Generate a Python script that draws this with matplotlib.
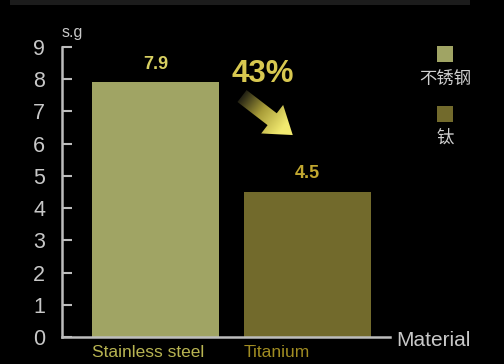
import numpy as np
import matplotlib
matplotlib.use("Agg")
import matplotlib.pyplot as plt
from matplotlib.patches import FancyArrow, Rectangle
from matplotlib.colors import LinearSegmentedColormap

plt.rcParams['font.family'] = ['Liberation Sans', 'Noto Sans CJK SC', 'DejaVu Sans']

categories = ["Stainless steel", "Titanium"]
legend_names = ["不锈钢", "钛"]
values = [7.9, 4.5]
bar_colors = ["#A0A464", "#726A2C"]
value_colors = ["#D8D062", "#C2A830"]
label_colors = ["#B8B452", "#A08C22"]
yticks = list(range(0, 10))
reduction_text = "43%"

W, H = 504, 364
fig = plt.figure(figsize=(W / 100, H / 100), dpi=100, facecolor="black")

bg = fig.add_axes([0, 0, 1, 1])
bg.set_xlim(0, W)
bg.set_ylim(H, 0)
bg.axis("off")
bg.add_patch(Rectangle((10, 0), 460, 5, color="#1c1c1c", lw=0))

left, right, top, bottom = 62, 390, 47, 337
ax = fig.add_axes([left / W, (H - bottom) / H, (right - left) / W, (bottom - top) / H])
ax.set_facecolor("none")
x = np.arange(len(categories))
bw = 127 / 152
ax.bar(x, values, width=bw, color=bar_colors, edgecolor="none", zorder=2)
ax.set_xlim(-0.615, 1.543)
ax.set_ylim(0, 9)

for xi, v, c in zip(x, values, value_colors):
    ax.text(xi, v + 0.3, f"{v}", ha="center", va="bottom", color=c,
            fontsize=13, fontweight="bold")

for s in ["top", "right"]:
    ax.spines[s].set_visible(False)
for s in ["left", "bottom"]:
    ax.spines[s].set_color("#BDBDBD")
    ax.spines[s].set_linewidth(1.8)

ax.set_yticks(yticks)
ax.set_yticklabels([str(t) for t in yticks])
ax.tick_params(axis="y", direction="in", length=7, width=1.5, color="#BDBDBD",
               labelcolor="#C8C8C8", labelsize=15.5, pad=12)
ax.set_xticks(x - bw / 2)
ax.set_xticklabels(categories)
ax.tick_params(axis="x", length=0, labelsize=12.5, pad=6)
for lbl, c in zip(ax.get_xticklabels(), label_colors):
    lbl.set_color(c)
    lbl.set_ha("left")

ax.text(1.585, -0.12, "Material", transform=ax.transData, ha="left", va="center",
        color="#C8C8C8", fontsize=15)
ax.text(0.0, 1.025, "s.g", transform=ax.transAxes, ha="left", va="bottom",
        color="#C8C8C8", fontsize=11.5)

# reduction annotation
bg.text(231, 82, reduction_text, ha="left", va="baseline", color="#D8C850",
        fontsize=22.5, fontweight="bold")
arrow = FancyArrow(242, 96, 52 * 0.58, 40 * 0.58, width=15, head_width=36,
                   head_length=26, length_includes_head=False, lw=0,
                   transform=bg.transData)
arrow.set_facecolor("none")
bg.add_patch(arrow)
cmap = LinearSegmentedColormap.from_list("g", ["#141410", "#a89c38", "#f2ea70"])
gx, gy = np.meshgrid(np.linspace(228, 308, 120), np.linspace(82, 152, 120))
d = np.array([52, 40]) / np.hypot(52, 40)
proj = (gx - 240) * d[0] + (gy - 94) * d[1]
proj = np.clip(proj / 55.0, 0, 1)
im = bg.imshow(proj, cmap=cmap, extent=(228, 308, 152, 82), origin="upper",
               aspect="auto", zorder=3)
im.set_clip_path(arrow)
bg.set_xlim(0, W)
bg.set_ylim(H, 0)

# legend
bg.add_patch(Rectangle((437, 46), 16, 16, color=bar_colors[0], lw=0))
bg.add_patch(Rectangle((437, 106), 16, 16, color=bar_colors[1], lw=0))
bg.text(445, 80, legend_names[0], ha="center", va="center", color="#CFCFCF",
        fontsize=12.5, family=["Noto Sans CJK SC", "DejaVu Sans"])
bg.text(445, 138, legend_names[1], ha="center", va="center", color="#CFCFCF",
        fontsize=12.5, family=["Noto Sans CJK SC", "DejaVu Sans"])

fig.savefig("out.png", dpi=100, facecolor="black")
